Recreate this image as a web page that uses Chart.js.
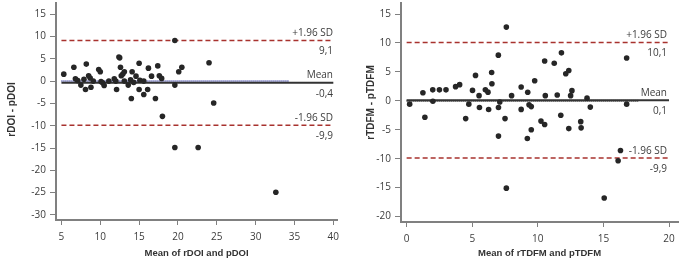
<!DOCTYPE html>
<html>
<head>
<meta charset="utf-8">
<script src="https://cdn.jsdelivr.net/npm/chart.js@4.4.0/dist/chart.umd.min.js"></script>
<style>
  html, body { margin: 0; padding: 0; background: #fff; }
  #wrap { position: relative; width: 681px; height: 273px; }
  .box { position: absolute; top: 0; height: 273px; }
</style>
</head>
<body>
<div id="wrap">
  <div class="box" style="left:0;width:340px"><canvas id="doi"></canvas></div>
  <div class="box" style="left:340px;width:341px"><canvas id="tdfm"></canvas></div>
</div>
<script>
// Left plot: rDOI vs pDOI
const doiMeanX = [5.3, 6.6, 6.8, 7.1, 7.5, 7.9, 8.1, 8.2, 8.5, 8.7, 8.8, 9.1, 9.8, 10.0, 10.1, 10.3, 10.5, 11.1, 11.8, 12.0,
  12.1, 12.4, 12.5, 12.6, 12.7, 12.9, 13.1, 13.1, 13.6, 13.9, 14.0, 14.1, 14.3, 14.6, 15.0, 15.0, 15.1, 15.6, 15.6, 16.1,
  16.2, 16.6, 17.1, 17.4, 17.6, 17.9, 18.0, 19.6, 19.6, 19.6, 20.1, 20.5, 22.6, 24.0, 24.6, 32.6];
const doiDiff = [1.55, 3.1, 0.5, 0.1, -0.9, 0.4, -1.9, 3.8, 1.2, 0.7, -1.4, 0, 2.6, 2.1, -0.1, -0.4, -1.0, 0, 0.5, 0,
  -1.9, 5.4, 5.2, 3.1, 1.2, 1.6, 2.1, 0, -0.9, 0.3, -3.9, 2.1, -0.3, 1.1, 4.0, -1.9, 0.2, -3.0, 0, -1.9,
  2.9, 1.1, -3.9, 3.4, 1.2, 0.6, -7.9, 9.1, -0.9, -14.9, 2.1, 3.1, -14.9, 4.1, -4.9, -24.9];
const doiXTicks = [5, 10, 15, 20, 25, 30, 35, 40];
const doiYTicks = [15, 10, 5, 0, -5, -10, -15, -20, -25, -30];
const doiLimits = [9.1, -9.9];
const doiMean = -0.4;
const doiZero = 0;
const doiLabels = [['+1.96 SD', '9,1'], ['Mean', '-0,4'], ['-1.96 SD', '-9,9']];

// Right plot: rTDFM vs pTDFM
const tdfmMeanX = [0.23, 1.24, 1.39, 1.99, 2.0, 2.5, 3.0, 3.73, 4.04, 4.5, 4.74, 5.02, 5.25, 5.52, 5.55, 6.0, 6.2, 6.25, 6.48, 6.5,
  6.99, 7.0, 7.0, 7.1, 7.5, 7.6, 7.6, 8.0, 8.73, 8.73, 9.23, 9.2, 9.33, 9.5, 9.5, 9.76, 10.24, 10.52, 10.52, 10.57,
  11.25, 11.48, 11.75, 11.8, 12.13, 12.36, 12.36, 12.5, 12.6, 13.27, 13.3, 13.75, 14.0, 15.06, 16.12, 16.3, 16.77, 16.77];
const tdfmDiff = [-0.57, 1.4, -2.85, 1.9, -0.06, 1.9, 1.9, 2.45, 2.8, -3.07, -0.57, 1.8, 4.4, 0.9, -1.14, 1.9, 1.5, -1.5, 4.9, 2.96,
  7.9, -1.14, -6.1, -0.2, -3.07, -15.1, 12.75, 0.9, 2.4, -1.48, 1.48, -6.5, -0.68, -1.0, -5.0, 3.47, -3.5, 6.9, -4.1, 0.9,
  6.5, 1.0, -2.5, 8.3, 4.67, 5.24, -4.8, 0.9, 1.76, -3.6, -4.67, 0.46, -1.08, -16.8, -10.36, -8.6, 7.4, -0.57];
const tdfmXTicks = [0, 5, 10, 15, 20];
const tdfmYTicks = [15, 10, 5, 0, -5, -10, -15, -20];
const tdfmLimits = [10.1, -9.9];
const tdfmMean = 0.1;
const tdfmZero = 0;
const tdfmLabels = [['+1.96 SD', '10,1'], ['Mean', '0,1'], ['-1.96 SD', '-9,9']];

const AXIS = '#808080';
const TEXT = '#3c3c3c';
const RED = '#a8322e';
const tickFont = { family: '"Open Sans", sans-serif', size: 10 };

function hline(y, x0, x1, color, width, dash) {
  return {
    type: 'line',
    data: [{ x: x0, y: y }, { x: x1, y: y }],
    borderColor: color,
    borderWidth: width,
    borderDash: dash,
    pointRadius: 0,
    fill: false,
  };
}

// no extra room for overhanging tick labels, the axes sit where we put them
function noPad(s) {
  s.paddingTop = 0;
  s.paddingBottom = 0;
  s.paddingLeft = 0;
  s.paddingRight = 0;
}

// SD / mean captions and the rotated y title
function captions(labels, values, textRight, yTitle, yTitleX, yTitleY) {
  return {
    id: 'captions',
    afterDatasetsDraw(chart) {
      const { ctx } = chart;
      const y = chart.scales.y;
      ctx.save();
      ctx.font = '10px "Open Sans", sans-serif';
      ctx.fillStyle = TEXT;
      ctx.textAlign = 'right';
      ctx.textBaseline = 'alphabetic';
      labels.forEach((l, i) => {
        const py = y.getPixelForValue(values[i]);
        ctx.fillText(l[0], textRight, py - 4.5);
        ctx.fillText(l[1], textRight, py + 14);
      });
      ctx.translate(yTitleX, yTitleY);
      ctx.rotate(-Math.PI / 2);
      ctx.font = 'bold 10px "Liberation Sans", Arial, sans-serif';
      ctx.fillStyle = '#333';
      ctx.textAlign = 'center';
      ctx.textBaseline = 'middle';
      ctx.fillText(yTitle, 0, 0);
      ctx.restore();
    },
  };
}

function makeChart(id, o) {
  const points = o.xs.map((x, i) => ({ x: x, y: o.ys[i] }));
  new Chart(document.getElementById(id), {
    type: 'scatter',
    data: {
      datasets: [
        {
          data: points, backgroundColor: '#262626', borderColor: '#262626',
          pointRadius: 2.8, pointBorderWidth: 0, pointHoverRadius: 2.8,
        },
        hline(o.mean, o.lineX[0], o.lineX[1], '#333', 2, []),
        hline(o.zero, o.lineX[0], o.zeroEnd, o.zeroColor, 2, [1, 1]),
        hline(o.limits[0], o.lineX[0], o.lineX[1], RED, 1.5, [5, 3]),
        hline(o.limits[1], o.lineX[0], o.lineX[1], RED, 1.5, [5, 3]),
      ],
    },
    options: {
      responsive: true,
      maintainAspectRatio: false,
      animation: false,
      layout: { padding: { top: 0, right: o.padRight, bottom: 0, left: 0 } },
      plugins: { legend: { display: false }, tooltip: { enabled: false } },
      scales: {
        x: {
          type: 'linear',
          min: o.xRange[0],
          max: o.xRange[1],
          afterFit: (s) => { s.height = o.xHeight; noPad(s); },
          afterBuildTicks: (s) => { s.ticks = o.xTicks.map((v) => ({ value: v })); },
          ticks: { font: tickFont, color: TEXT, padding: 6, maxRotation: 0 },
          grid: { drawOnChartArea: false, drawTicks: true, tickLength: 5, color: AXIS, lineWidth: 1 },
          border: { display: true, color: AXIS, width: 2 },
          title: {
            display: true,
            text: o.xTitle,
            color: '#333',
            font: { family: '"Liberation Sans", Arial, sans-serif', size: 9.5, weight: 'bold' },
            padding: { top: 0, bottom: 13.5 },
          },
        },
        y: {
          type: 'linear',
          min: o.yRange[0],
          max: o.yRange[1],
          afterFit: (s) => { s.width = o.yWidth; noPad(s); },
          afterBuildTicks: (s) => { s.ticks = o.yTicks.map((v) => ({ value: v })); },
          ticks: { font: tickFont, color: TEXT, padding: 4 },
          grid: { drawOnChartArea: false, drawTicks: true, tickLength: 6, color: AXIS, lineWidth: 1 },
          border: { display: true, color: AXIS, width: 2 },
        },
      },
    },
    plugins: [captions(o.labels, [o.limits[0], o.mean, o.limits[1]], o.textRight, o.yTitle, o.yTitleX, o.yTitleY)],
  });
}

makeChart('doi', {
  xs: doiMeanX, ys: doiDiff, xTicks: doiXTicks, yTicks: doiYTicks,
  xRange: [4.3, 40.5], yRange: [-31.13, 17.54],
  mean: doiMean, zero: doiZero, limits: doiLimits, labels: doiLabels,
  lineX: [5, 40], zeroEnd: 34.3, zeroColor: '#5f63b8',
  yWidth: 56, xHeight: 53, padRight: 1, textRight: 333,
  xTitle: 'Mean of rDOI and pDOI', yTitle: 'rDOI - pDOI', yTitleX: 12.7, yTitleY: 109.5,
});

makeChart('tdfm', {
  xs: tdfmMeanX, ys: tdfmDiff, xTicks: tdfmXTicks, yTicks: tdfmYTicks,
  xRange: [-0.43, 20.7], yRange: [-20.95, 16.95],
  mean: tdfmMean, zero: tdfmZero, limits: tdfmLimits, labels: tdfmLabels,
  lineX: [0, 20], zeroEnd: 17.7, zeroColor: '#222',
  yWidth: 61, xHeight: 51, padRight: 1, textRight: 327,
  xTitle: 'Mean of rTDFM and pTDFM', yTitle: 'rTDFM - pTDFM', yTitleX: 31.7, yTitleY: 102.5,
});
</script>
</body>
</html>
